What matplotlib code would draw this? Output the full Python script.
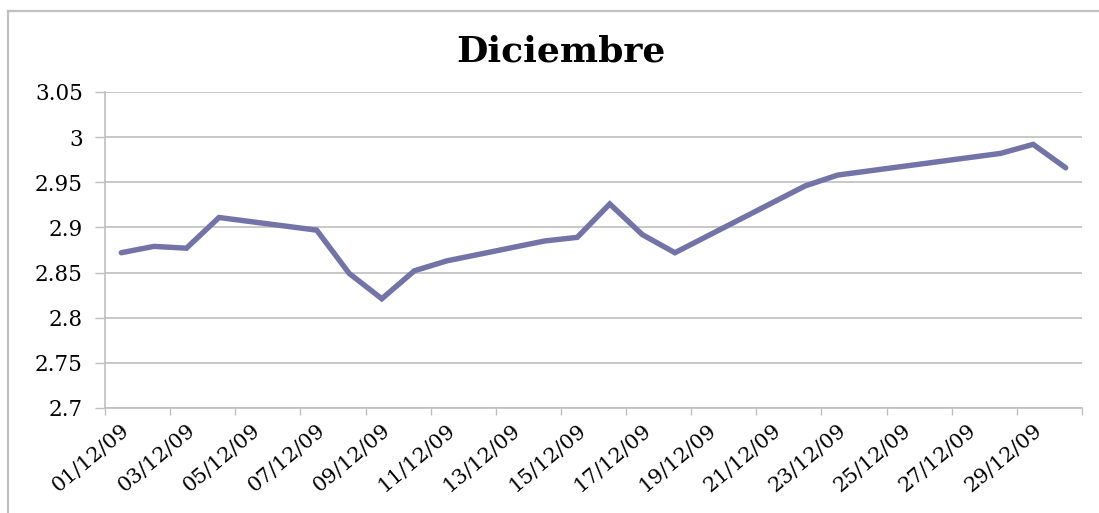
import matplotlib.pyplot as plt
from matplotlib.lines import Line2D

# dias habiles de diciembre 2009 (los fines de semana y feriados no tienen dato)
dias = [1, 2, 3, 4, 7, 8, 9, 10, 11, 14, 15, 16, 17, 18, 22, 23, 28, 29, 30]
valores = [2.872, 2.879, 2.877, 2.911, 2.897, 2.849, 2.821, 2.852, 2.863,
           2.885, 2.889, 2.926, 2.892, 2.872, 2.946, 2.958, 2.982, 2.992, 2.966]

etiquetas = ['01/12/09', '03/12/09', '05/12/09', '07/12/09', '09/12/09',
             '11/12/09', '13/12/09', '15/12/09', '17/12/09', '19/12/09',
             '21/12/09', '23/12/09', '25/12/09', '27/12/09', '29/12/09']
pos_etiquetas = [1, 3, 5, 7, 9, 11, 13, 15, 17, 19, 21, 23, 25, 27, 29]
yticks = [2.7, 2.75, 2.8, 2.85, 2.9, 2.95, 3.0, 3.05]
ylabels = ['2.7', '2.75', '2.8', '2.85', '2.9', '2.95', '3', '3.05']

grid_col = '#BFBFBF'

fig = plt.figure(figsize=(10.99, 5.13), dpi=100)
ax = fig.add_axes([105 / 1099, 1 - 408 / 513, 977 / 1099, 316 / 513])

ax.plot(dias, valores, color='#7373A8', lw=3.9, solid_capstyle='round',
        solid_joinstyle='miter', zorder=3)

ax.set_xlim(0.5, 30.5)
ax.set_ylim(2.7, 3.05)

ax.set_yticks(yticks)
ax.set_yticklabels(ylabels, family='DejaVu Serif', fontsize=15.5)
ax.yaxis.grid(True, color=grid_col, lw=1.2)
ax.tick_params(axis='y', length=7, width=1, color=grid_col, pad=9)

ax.set_xticks(pos_etiquetas)
ax.set_xticklabels(etiquetas, rotation=40, ha='right', rotation_mode='anchor',
                   family='DejaVu Serif', fontsize=15)
ax.tick_params(axis='x', which='major', length=0, pad=9)
ax.set_xticks([0.5 + 2 * i for i in range(16)], minor=True)
ax.tick_params(axis='x', which='minor', length=5, width=1, color=grid_col)

for s in ['top', 'right']:
    ax.spines[s].set_visible(False)
for s in ['left', 'bottom']:
    ax.spines[s].set_color(grid_col)
    ax.spines[s].set_linewidth(1.2)

fig.text(0.510, 0.900, 'Diciembre', ha='center', va='center',
         family='DejaVu Serif', fontweight='bold', fontsize=26)

# borde del area del grafico
fig.add_artist(Line2D([8 / 1099, 8 / 1099], [0, 1 - 11 / 513],
                      color='#C0C0C0', lw=1.6, transform=fig.transFigure))
fig.add_artist(Line2D([8 / 1099, 1098 / 1099], [1 - 11 / 513, 1 - 11 / 513],
                      color='#C0C0C0', lw=1.6, transform=fig.transFigure))

fig.savefig('out.png', dpi=100)
